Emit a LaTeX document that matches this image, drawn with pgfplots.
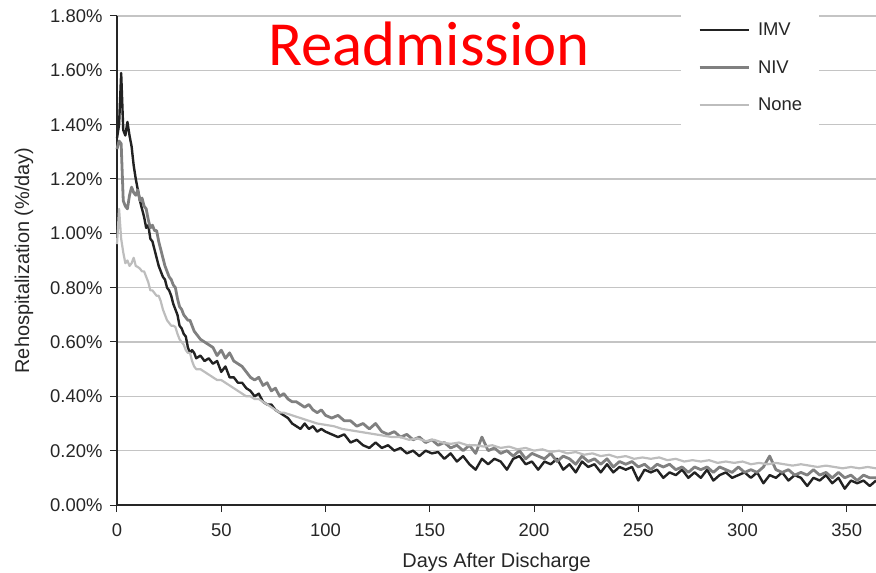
\documentclass[border=0pt]{standalone}
\usepackage{pgfplots}
\pgfplotsset{compat=1.18}
\usepackage{fontspec}
\setmainfont{Liberation Sans}
\newfontfamily\titlefont{Carlito}
\definecolor{imv}{HTML}{222222}
\definecolor{niv}{HTML}{808080}
\definecolor{nonec}{HTML}{BDBDBD}
\definecolor{gridc}{HTML}{C4C4C4}

\pgfplotstableread{
x y
0 1.35
1 1.40
2 1.59
3 1.38
4 1.36
5 1.41
6 1.36
7 1.32
8 1.25
9 1.20
10 1.16
11 1.12
12 1.09
13 1.06
14 1.02
15 1.03
16 0.98
17 0.97
18 0.94
19 0.91
20 0.88
21 0.86
22 0.84
23 0.83
24 0.80
25 0.79
26 0.77
27 0.74
28 0.72
29 0.70
30 0.66
31 0.65
32 0.63
33 0.62
34 0.58
35 0.56
36 0.57
37 0.56
38 0.54
40 0.55
42 0.53
44 0.54
46 0.52
48 0.53
50 0.49
52 0.51
54 0.47
56 0.47
58 0.45
60 0.45
62 0.43
64 0.42
66 0.40
68 0.41
70 0.38
72 0.37
74 0.37
76 0.35
78 0.34
80 0.33
82 0.32
84 0.30
86 0.29
88 0.28
90 0.30
92 0.28
94 0.29
96 0.27
98 0.28
100 0.27
103 0.26
106 0.25
109 0.26
112 0.23
115 0.24
118 0.22
121 0.21
124 0.23
127 0.21
130 0.22
133 0.20
136 0.21
139 0.19
142 0.20
145 0.18
148 0.20
151 0.19
154 0.195
157 0.17
160 0.19
163 0.16
166 0.18
169 0.15
172 0.13
175 0.17
178 0.15
181 0.17
184 0.16
187 0.13
190 0.17
193 0.18
196 0.15
199 0.16
202 0.13
205 0.16
208 0.15
211 0.17
214 0.13
217 0.15
220 0.12
223 0.16
226 0.14
229 0.15
232 0.12
235 0.15
238 0.12
241 0.14
244 0.13
247 0.14
250 0.09
253 0.13
256 0.12
259 0.13
262 0.10
265 0.12
268 0.11
271 0.13
274 0.10
277 0.12
280 0.10
283 0.13
286 0.09
289 0.11
292 0.12
295 0.10
298 0.11
301 0.12
304 0.10
307 0.12
310 0.08
313 0.11
316 0.10
319 0.12
322 0.09
325 0.11
328 0.10
331 0.07
334 0.10
337 0.09
340 0.11
343 0.08
346 0.10
349 0.06
352 0.09
355 0.08
358 0.09
361 0.07
364 0.09
}\imvtable

\pgfplotstableread{
x y
0 1.31
1 1.34
2 1.33
3 1.12
4 1.10
5 1.09
6 1.14
7 1.17
8 1.15
9 1.14
10 1.16
11 1.12
12 1.13
13 1.10
14 1.09
15 1.05
16 1.02
17 1.03
18 1.01
19 1.01
20 0.97
21 0.94
22 0.91
23 0.88
24 0.86
25 0.84
26 0.83
27 0.81
28 0.80
29 0.76
30 0.73
31 0.72
32 0.70
33 0.69
34 0.68
35 0.68
36 0.66
37 0.64
38 0.63
40 0.61
42 0.60
44 0.59
46 0.58
48 0.55
50 0.57
52 0.54
54 0.56
56 0.53
58 0.52
60 0.51
62 0.49
64 0.47
66 0.46
68 0.47
70 0.44
72 0.45
74 0.42
76 0.43
78 0.40
80 0.41
82 0.39
84 0.38
86 0.38
88 0.37
90 0.36
92 0.37
94 0.35
96 0.34
98 0.35
100 0.33
103 0.32
106 0.33
109 0.31
112 0.31
115 0.29
118 0.30
121 0.28
124 0.30
127 0.27
130 0.26
133 0.27
136 0.25
139 0.26
142 0.24
145 0.25
148 0.23
151 0.24
154 0.22
157 0.23
160 0.21
163 0.22
166 0.20
169 0.22
172 0.19
175 0.25
178 0.20
181 0.21
184 0.19
187 0.20
190 0.18
193 0.20
196 0.17
199 0.19
202 0.18
205 0.17
208 0.19
211 0.16
214 0.18
217 0.17
220 0.15
223 0.18
226 0.16
229 0.17
232 0.15
235 0.17
238 0.14
241 0.16
244 0.15
247 0.16
250 0.14
253 0.15
256 0.13
259 0.15
262 0.14
265 0.15
268 0.13
271 0.14
274 0.12
277 0.14
280 0.13
283 0.14
286 0.12
289 0.14
292 0.13
295 0.12
298 0.14
301 0.12
304 0.13
307 0.12
310 0.14
313 0.18
316 0.13
319 0.12
322 0.13
325 0.11
328 0.12
331 0.11
334 0.13
337 0.11
340 0.12
343 0.10
346 0.12
349 0.10
352 0.11
355 0.09
358 0.11
361 0.10
364 0.10
}\nivtable

\pgfplotstableread{
x y
0 0.96
1 1.09
2 0.98
3 0.93
4 0.89
5 0.90
6 0.88
7 0.89
8 0.91
9 0.88
10 0.876
11 0.87
12 0.86
13 0.86
14 0.84
15 0.82
16 0.79
17 0.79
18 0.78
19 0.77
20 0.77
21 0.75
22 0.72
23 0.70
24 0.68
25 0.67
26 0.66
27 0.66
28 0.655
29 0.63
30 0.61
31 0.60
32 0.59
33 0.57
34 0.56
35 0.56
36 0.53
37 0.51
38 0.50
40 0.50
42 0.49
44 0.48
46 0.47
48 0.46
50 0.46
52 0.45
54 0.44
56 0.43
58 0.42
60 0.41
62 0.40
64 0.40
66 0.39
68 0.39
70 0.38
72 0.37
74 0.36
76 0.35
78 0.34
80 0.34
84 0.33
88 0.32
92 0.31
96 0.30
100 0.295
104 0.29
108 0.28
112 0.275
116 0.27
120 0.265
124 0.26
128 0.255
132 0.25
136 0.25
140 0.24
144 0.245
148 0.235
152 0.24
156 0.23
160 0.225
164 0.23
168 0.22
172 0.22
176 0.215
180 0.22
184 0.21
188 0.215
192 0.205
196 0.21
200 0.20
204 0.205
208 0.195
212 0.20
216 0.19
220 0.195
224 0.185
228 0.19
232 0.18
236 0.185
240 0.175
244 0.18
248 0.17
252 0.175
256 0.17
260 0.175
264 0.165
268 0.17
272 0.16
276 0.165
280 0.16
284 0.165
288 0.155
292 0.16
296 0.155
300 0.16
304 0.15
308 0.155
312 0.15
316 0.155
320 0.15
324 0.145
328 0.15
332 0.145
336 0.14
340 0.145
344 0.14
348 0.135
352 0.14
356 0.135
360 0.14
364 0.135
}\nonetable

\begin{document}
\begin{tikzpicture}
\begin{axis}[
  scale only axis, width=759bp, height=489bp,
  xmin=0, xmax=364, ymin=0, ymax=1.8,
  clip=false,
  /pgf/number format/assume math mode=true,
  axis x line*=bottom, axis y line*=left,
  axis line style={line width=1.3bp, color=black!85, -},
  xtick={0,50,100,150,200,250,300,350},
  ytick={0,0.2,0.4,0.6,0.8,1.0,1.2,1.4,1.6,1.8},
  yticklabels={0.00\%,0.20\%,0.40\%,0.60\%,0.80\%,1.00\%,1.20\%,1.40\%,1.60\%,1.80\%},
  tick align=outside, major tick length=7bp,
  tick style={line width=1bp, color=black!85},
  ymajorgrids, grid style={line width=1.4bp, color=gridc},
  ticklabel style={font=\fontsize{18.5}{20}\selectfont, text=black!85},
  xticklabel style={yshift=-8bp},
  yticklabel style={xshift=-4bp},
  xlabel={Days After Discharge}, ylabel={Rehospitalization (\%/day)},
  label style={font=\fontsize{20}{22}\selectfont, text=black!85},
  xlabel style={at={(axis description cs:0.5,-0.1288)}, anchor=base},
  ylabel style={at={(axis description cs:-0.1225,0.5)}, anchor=center},
  legend style={at={(rel axis cs:0.7431,1.0123)}, anchor=north west,
    draw=none, fill=white, inner xsep=17bp, inner ysep=13bp,
    font=\fontsize{18.5}{20}\selectfont, text=black!85,
    nodes={inner sep=0bp}, row sep=23bp, column sep=8bp,
    cells={anchor=west}},
  legend image code/.code={\draw[#1] (0bp,0bp) -- (49bp,0bp);},
  every axis plot/.append style={line join=round, mark=none},
]
\addplot[color=imv, line width=2.4bp] table[x=x,y=y] {\imvtable};
\addlegendentry{IMV}
\addplot[color=niv, line width=2.8bp] table[x=x,y=y] {\nivtable};
\addlegendentry{NIV}
\addplot[color=nonec, line width=2.2bp] table[x=x,y=y] {\nonetable};
\addlegendentry{None}
\node[font=\titlefont\fontsize{63}{70}\selectfont, text=red, anchor=base] at (axis cs:149.6,1.619) {Readmission};
\coordinate (bl) at (rel axis cs:0,0);
\coordinate (tr) at (rel axis cs:1,1);
\end{axis}
\pgfresetboundingbox
\path ([shift={(-117bp,-68bp)}]bl) rectangle ([shift={(0bp,16bp)}]tr);
\end{tikzpicture}
\end{document}
